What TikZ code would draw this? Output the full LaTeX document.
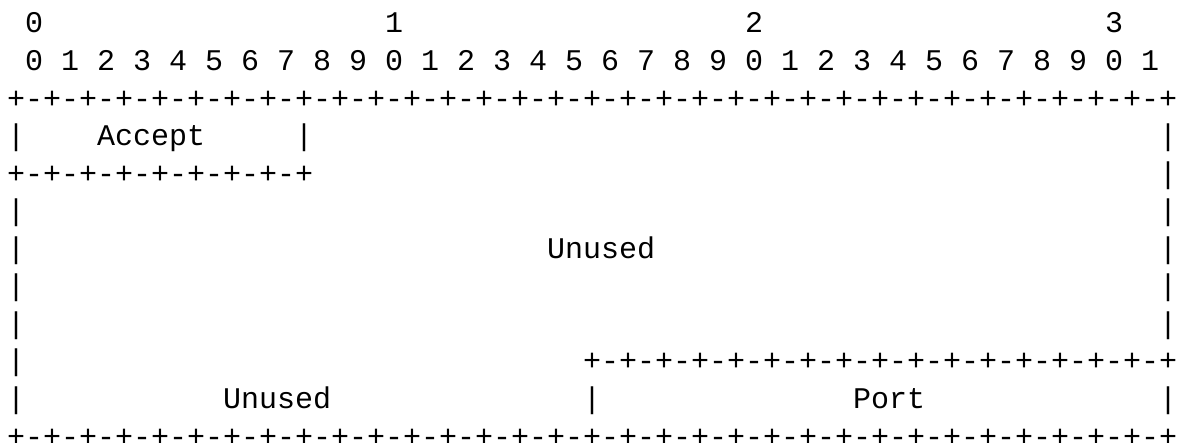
\documentclass[tikz,border=0pt]{standalone}
\usepackage{fontspec}
\usepackage{tikz}
\newfontfamily\asciifont{Liberation Mono}[WordSpace={1,0,0}]

\begin{document}
\begin{tikzpicture}[x=18pt,y=-37.55pt,
    ascii/.style={anchor=base west, inner sep=0pt, outer sep=0pt,
      font=\asciifont\fontsize{30pt}{37pt}\selectfont}]
  \useasboundingbox (0pt,0pt) rectangle (1188pt,-443pt);
  \begin{scope}[shift={(7pt,-33pt)}]
    % Bit numbers
    \node[ascii] (ten0) at (1,0) {0};
    \node[ascii] (ten1) at (21,0) {1};
    \node[ascii] (ten2) at (41,0) {2};
    \node[ascii] (ten3) at (61,0) {3};
    \node[ascii] (bits) at (1,1) {0 1 2 3 4 5 6 7 8 9 0 1 2 3 4 5 6 7 8 9 0 1 2 3 4 5 6 7 8 9 0 1};

    % First word
    \node[ascii] (top) at (0,2) {+-+-+-+-+-+-+-+-+-+-+-+-+-+-+-+-+-+-+-+-+-+-+-+-+-+-+-+-+-+-+-+-+};
    \node[ascii] (accL) at (0,3) {|};
    \node[ascii] (accept) at (5,3) {Accept};
    \node[ascii] (accR) at (16,3) {|};
    \node[ascii] (w1R) at (64,3) {|};
    \node[ascii] (accbot) at (0,4) {+-+-+-+-+-+-+-+-+};
    \node[ascii] (w2R) at (64,4) {|};

    % Unused area
    \node[ascii] (u1L) at (0,5) {|};
    \node[ascii] (u1R) at (64,5) {|};
    \node[ascii] (u2L) at (0,6) {|};
    \node[ascii] (unused) at (30,6) {Unused};
    \node[ascii] (u2R) at (64,6) {|};
    \node[ascii] (u3L) at (0,7) {|};
    \node[ascii] (u3R) at (64,7) {|};
    \node[ascii] (u4L) at (0,8) {|};
    \node[ascii] (u4R) at (64,8) {|};

    % Last word
    \node[ascii] (u5L) at (0,9) {|};
    \node[ascii] (porttop) at (32,9) {+-+-+-+-+-+-+-+-+-+-+-+-+-+-+-+-+};
    \node[ascii] (lastL) at (0,10) {|};
    \node[ascii] (unused2) at (12,10) {Unused};
    \node[ascii] (portL) at (32,10) {|};
    \node[ascii] (port) at (47,10) {Port};
    \node[ascii] (portR) at (64,10) {|};
    \node[ascii] (bottom) at (0,11) {+-+-+-+-+-+-+-+-+-+-+-+-+-+-+-+-+-+-+-+-+-+-+-+-+-+-+-+-+-+-+-+-+};
  \end{scope}
\end{tikzpicture}
\end{document}
